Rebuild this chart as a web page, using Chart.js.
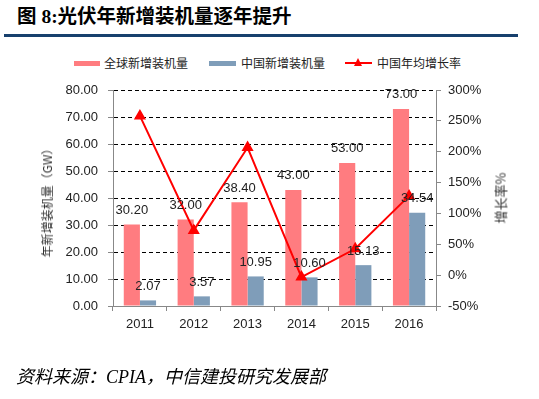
<!DOCTYPE html>
<html><head><meta charset="utf-8">
<script src="https://cdn.jsdelivr.net/npm/chart.js@4"></script>
<style>
body{margin:0;width:539px;height:399px;background:#fff;position:relative;overflow:hidden;font-family:"Noto Sans CJK SC",sans-serif}
#c{position:absolute;left:0;top:0}
.t{position:absolute;white-space:nowrap}
.lg{position:absolute;font-size:12px;line-height:12px;color:#222;white-space:nowrap}
</style></head><body>
<div class="t" style="left:17px;top:7px;font-size:19.5px;line-height:20px;font-weight:bold;color:#000;font-family:'Liberation Serif','Noto Sans CJK SC',serif">图 8:光伏年新增装机量逐年提升</div>
<div style="position:absolute;left:4px;top:34px;width:514px;height:3px;background:#17406D"></div>

<div style="position:absolute;left:74px;top:61px;width:26px;height:5px;background:#FF7C80"></div>
<div class="lg" style="left:104px;top:57px">全球新增装机量</div>
<div style="position:absolute;left:209px;top:61px;width:27px;height:5px;background:#7F9DB9"></div>
<div class="lg" style="left:241px;top:57px">中国新增装机量</div>
<div style="position:absolute;left:345px;top:62px;width:27px;height:2px;background:#FF0000"></div>
<div style="position:absolute;left:354px;top:58px;width:0;height:0;border-left:4.5px solid transparent;border-right:4.5px solid transparent;border-bottom:8px solid #FF0000"></div>
<div class="lg" style="left:377px;top:57px">中国年均增长率</div>

<canvas id="c" width="539" height="399"></canvas>

<div class="t" style="left:47px;top:200px;font-size:12px;line-height:12px;color:#333;transform:translate(-50%,-50%) rotate(-90deg)">年新增装机量（GW）</div>
<div class="t" style="left:500px;top:198px;font-size:13px;line-height:13px;color:#333;transform:translate(-50%,-50%) rotate(-90deg)">增长率%</div>

<div class="t" style="left:16px;top:366px;font-size:18px;line-height:22px;font-style:italic;color:#000;font-family:'Liberation Serif','Noto Sans CJK SC',serif">资料来源：CPIA，中信建投研究发展部</div>

<script>
const years = ['2011','2012','2013','2014','2015','2016'];
const globalAdded = [30.20, 32.00, 38.40, 43.00, 53.00, 73.00];
const chinaAdded = [2.07, 3.57, 10.95, 10.60, 15.13, 34.54];
const chinaGrowth = [258, 72.5, 206.7, -3.2, 42.7, 128.4];
const leftAxis = {min: 0, max: 80, step: 10};
const rightAxis = {min: -50, max: 300, step: 50};

const labelPlugin = {
  id: 'barLabels',
  afterDatasetsDraw(chart) {
    const ctx = chart.ctx;
    ctx.save();
    ctx.font = '13px "Liberation Sans", Arial, sans-serif';
    ctx.fillStyle = '#222';
    ctx.textAlign = 'center';
    ctx.textBaseline = 'middle';
    chart.data.datasets.forEach((ds, di) => {
      if (ds.type !== 'bar') return;
      const meta = chart.getDatasetMeta(di);
      meta.data.forEach((el, i) => {
        ctx.fillText(ds.data[i].toFixed(2), el.x, el.y - 14);
      });
    });
    ctx.restore();
  }
};

new Chart(document.getElementById('c'), {
  data: {
    labels: years,
    datasets: [
      {type: 'line', label: '中国年均增长率', data: chinaGrowth, yAxisID: 'y1', order: 0,
       borderColor: '#FF0000', backgroundColor: '#FF0000', borderWidth: 2, tension: 0,
       pointStyle: 'triangle', pointRadius: 5, pointBackgroundColor: '#FF0000', pointBorderColor: '#FF0000'},
      {type: 'bar', label: '全球新增装机量', data: globalAdded, yAxisID: 'y', order: 1,
       backgroundColor: '#FF7C80', barPercentage: 1, categoryPercentage: 0.6},
      {type: 'bar', label: '中国新增装机量', data: chinaAdded, yAxisID: 'y', order: 1,
       backgroundColor: '#7F9DB9', barPercentage: 1, categoryPercentage: 0.6}
    ]
  },
  options: {
    responsive: false, animation: false, devicePixelRatio: 1,
    layout: {padding: {top: 90, bottom: 53, left: 0, right: 0}},
    plugins: {legend: {display: false}, tooltip: {enabled: false}},
    scales: {
      x: {
        grid: {offset: true, drawOnChartArea: false, tickLength: 5, color: '#888'},
        border: {color: '#888'},
        ticks: {font: {size: 13, family: '"Liberation Sans", Arial, sans-serif'}, color: '#222', padding: 6, maxRotation: 0},
        afterFit(s) { s.height = 40; }
      },
      y: {
        position: 'left', min: leftAxis.min, max: leftAxis.max,
        ticks: {stepSize: leftAxis.step, callback: v => Number(v).toFixed(2), padding: 10,
                font: {size: 13, family: '"Liberation Sans", Arial, sans-serif'}, color: '#222'},
        grid: {color: c => c.tick && c.tick.value === 0 ? 'rgba(0,0,0,0)' : '#000', tickColor: '#888', tickLength: 5},
        border: {color: '#888', dash: [4, 3]},
        afterFit(s) { s.width = 113; }
      },
      y1: {
        position: 'right', min: rightAxis.min, max: rightAxis.max,
        ticks: {stepSize: rightAxis.step, callback: v => v + '%', padding: 7,
                font: {size: 13, family: '"Liberation Sans", Arial, sans-serif'}, color: '#222'},
        grid: {drawOnChartArea: false, tickLength: 5, color: '#888', tickColor: '#888'},
        border: {color: '#888'},
        afterFit(s) { s.width = 103; }
      }
    }
  },
  plugins: [labelPlugin]
});
</script>
</body></html>
